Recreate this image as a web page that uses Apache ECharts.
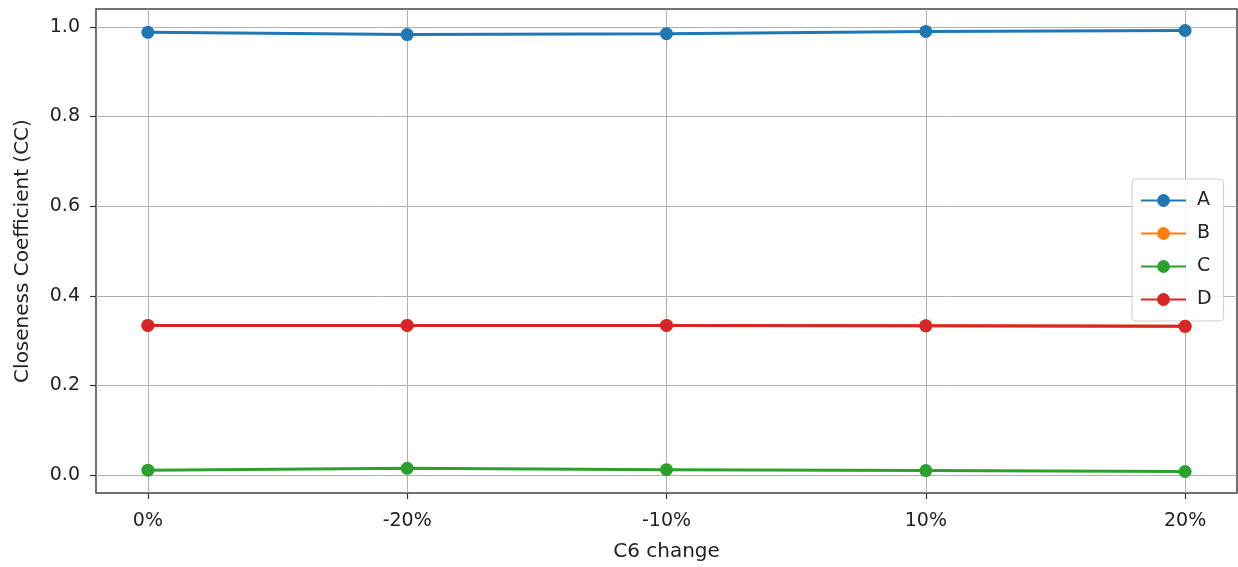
<!DOCTYPE html>
<html>
<head>
<meta charset="utf-8">
<script src="https://cdn.jsdelivr.net/npm/echarts@6/dist/echarts.min.js"></script>
<style>html,body{margin:0;padding:0;background:#fff}#c{width:1238px;height:567px}</style>
</head>
<body>
<div id="c"></div>
<script>
var categories = ['0%', '-20%', '-10%', '10%', '20%'];
var seriesNames = ['A', 'B', 'C', 'D'];
var valuesA = [0.988, 0.983, 0.985, 0.990, 0.992];
var valuesB = [0.334, 0.334, 0.334, 0.333, 0.332];
var valuesC = [0.011, 0.015, 0.012, 0.010, 0.008];
var valuesD = [0.334, 0.334, 0.334, 0.333, 0.332];
var yTicks = [0, 0.2, 0.4, 0.6, 0.8, 1.0];
var colors = ['#1f77b4', '#ff7f0e', '#2ca02c', '#d62728'];

var allValues = [valuesA, valuesB, valuesC, valuesD];
var xIdx = categories.map(function (_, i) { return i; });
var font = 'DejaVu Sans';

var series = seriesNames.map(function (name, k) {
  return {
    name: name,
    type: 'line',
    data: allValues[k].map(function (v, i) { return [i, v]; }),
    symbol: 'circle',
    symbolSize: 13,
    lineStyle: { width: 3, color: colors[k] },
    itemStyle: { color: colors[k] },
    z: 3 + k
  };
});

var chart = echarts.init(document.getElementById('c'), null, { renderer: 'canvas' });
chart.setOption({
  animation: false,
  color: colors,
  grid: {
    left: 96, top: 9, width: 1141, height: 484,
    show: true, borderColor: '#444', borderWidth: 1.5, backgroundColor: 'transparent'
  },
  xAxis: {
    type: 'value', min: -0.2, max: 4.2,
    name: 'C6 change', nameLocation: 'middle', nameGap: 49,
    nameTextStyle: { fontFamily: font, fontSize: 20, color: '#222' },
    axisLine: { show: false, onZero: false },
    axisTick: { show: true, customValues: xIdx, length: 6, inside: false, lineStyle: { color: '#333', width: 1.2 } },
    axisLabel: {
      customValues: xIdx, fontFamily: font, fontSize: 19, color: '#222', margin: 19,
      formatter: function (v) { return categories[Math.round(v)]; }
    },
    splitLine: { show: true, lineStyle: { color: '#b0b0b0', width: 1 } }
  },
  yAxis: {
    type: 'value', min: -0.04, max: 1.04,
    name: 'Closeness Coefficient (CC)', nameLocation: 'middle', nameGap: 63, nameRotate: 90,
    nameTextStyle: { fontFamily: font, fontSize: 20, color: '#222' },
    axisLine: { show: false, onZero: false },
    axisTick: { show: true, customValues: yTicks, length: 6, inside: false, lineStyle: { color: '#333', width: 1.2 } },
    axisLabel: {
      customValues: yTicks, fontFamily: font, fontSize: 19, color: '#222', margin: 16,
      formatter: function (v) { return v.toFixed(1); }
    },
    splitLine: { show: true, lineStyle: { color: '#b0b0b0', width: 1 } }
  },
  legend: {
    data: seriesNames,
    orient: 'vertical',
    left: 1132, top: 179,
    padding: [12, 12, 12, 8],
    itemWidth: 45, itemHeight: 16, itemGap: 14,
    backgroundColor: 'rgba(255,255,255,0.85)',
    borderColor: '#cccccc', borderWidth: 1, borderRadius: 4,
    textStyle: { fontFamily: font, fontSize: 19, color: '#222', padding: [0, 0, 0, 6] }
  },
  series: series
});
</script>
</body>
</html>
